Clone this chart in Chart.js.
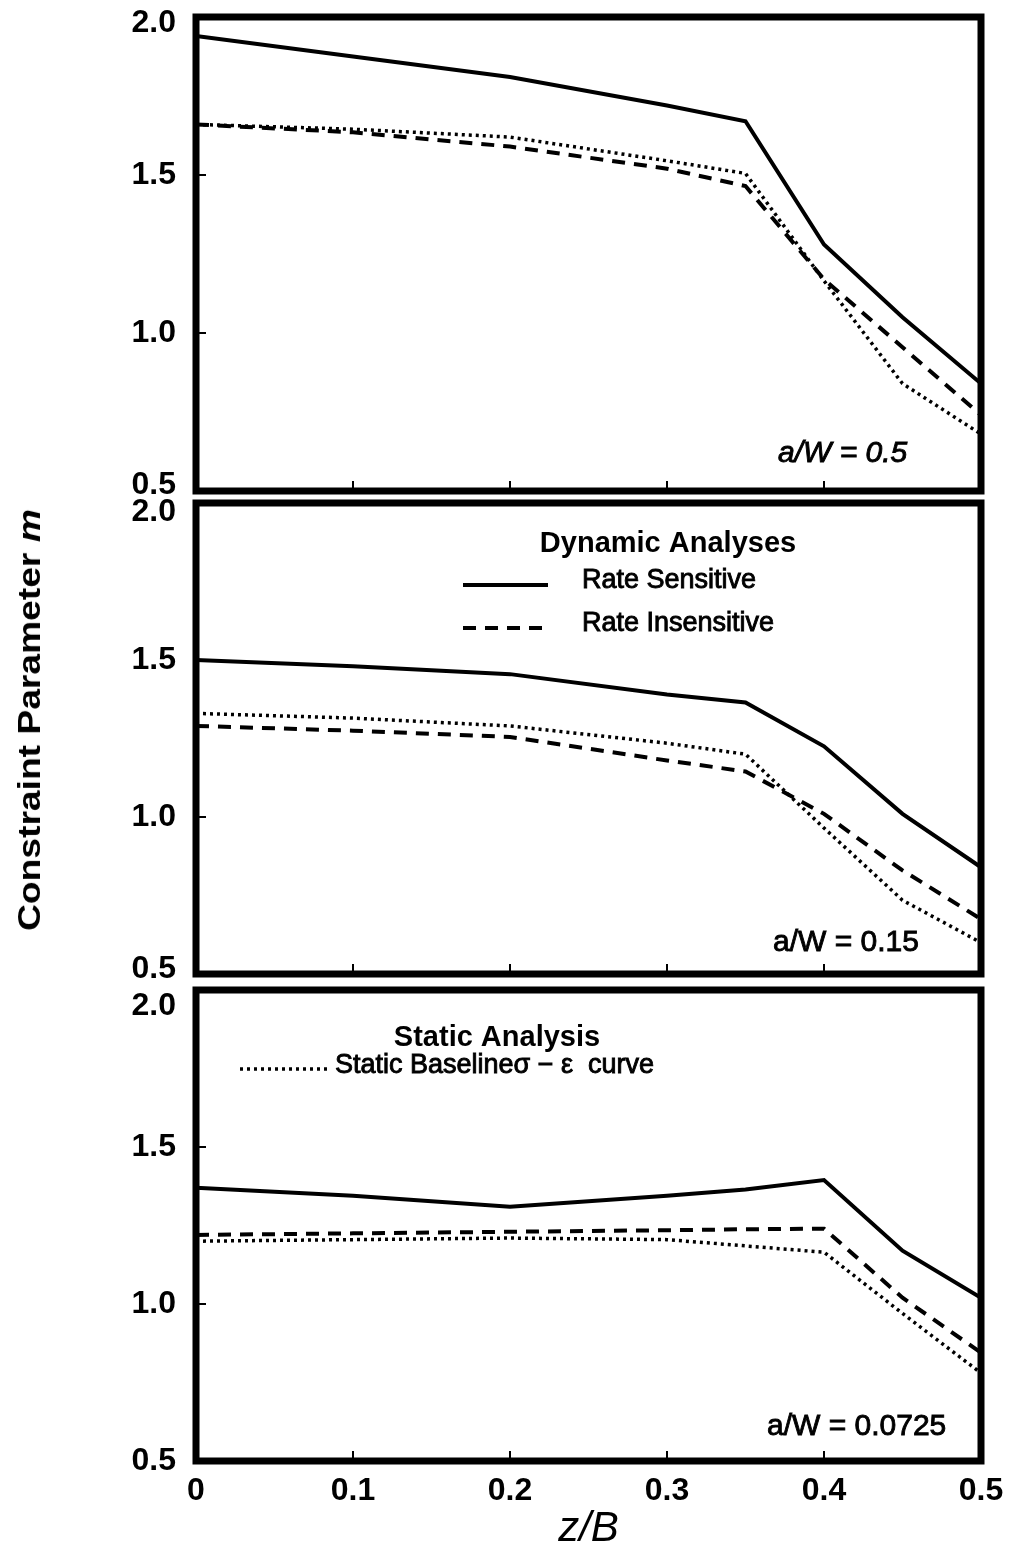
<!DOCTYPE html>
<html>
<head>
<meta charset="utf-8">
<script src="https://cdn.jsdelivr.net/npm/chart.js@4.4.1/dist/chart.umd.min.js"></script>
<style>
  body { margin: 0; background: #fff; width: 1014px; height: 1557px; position: relative; overflow: hidden; }
  canvas { position: absolute; left: 0; }
  #ytitle {
    position: absolute; left: 30px; top: 720px; white-space: nowrap;
    font: bold 31px 'Liberation Sans', Arial, sans-serif; color: #000;
    transform: translate(-50%, -50%) rotate(-90deg) scaleX(1.2);
  }
</style>
</head>
<body>
<canvas id="c1" width="1014" height="500" style="top:0px"></canvas>
<canvas id="c2" width="1014" height="485" style="top:495px"></canvas>
<canvas id="c3" width="1014" height="577" style="top:980px"></canvas>
<div id="ytitle">Constraint Parameter <i>m</i></div>
<script>
const FONT = "'Liberation Sans', Arial, Helvetica, sans-serif"

// z/B positions where the curves were sampled
const zB = [0, 0.1, 0.2, 0.3, 0.35, 0.4, 0.45, 0.5]
const xTicks = [0, 0.1, 0.2, 0.3, 0.4, 0.5]
const yTicks = [0.5, 1.0, 1.5, 2.0]
const seriesLabels = ['Rate Sensitive', 'Rate Insensitive', 'Static Baseline\u03c3 \u2212 \u03b5  curve']

// a/W = 0.5
const sensitive050 = [1.94, 1.875, 1.81, 1.72, 1.67, 1.28, 1.05, 0.84]
const insensitive050 = [1.66, 1.635, 1.59, 1.52, 1.465, 1.17, 0.955, 0.74]
const static050 = [1.66, 1.645, 1.62, 1.545, 1.505, 1.165, 0.84, 0.68]

// a/W = 0.15
const sensitive015 = [1.50, 1.48, 1.455, 1.39, 1.365, 1.225, 1.01, 0.84]
const insensitive015 = [1.29, 1.275, 1.255, 1.18, 1.145, 1.01, 0.83, 0.675]
const static015 = [1.33, 1.315, 1.29, 1.235, 1.20, 0.965, 0.735, 0.60]

// a/W = 0.0725
const sensitive0725 = [1.37, 1.345, 1.31, 1.345, 1.365, 1.395, 1.17, 1.02]
const insensitive0725 = [1.22, 1.225, 1.23, 1.235, 1.238, 1.24, 1.02, 0.845]
const static0725 = [1.20, 1.205, 1.21, 1.205, 1.185, 1.165, 0.97, 0.78]

// line look for solid / dashed / dotted
const lineStyles = [
  { width: 4, dash: [] },
  { width: 4, dash: [13, 9] },
  { width: 3.5, dash: [3, 4] },
]

// medium weight text: fill plus a thin stroke
function mediumText(ctx, text, x, y) {
  ctx.fillText(text, x, y)
  ctx.lineWidth = 0.9
  ctx.strokeText(text, x, y)
}

// frame, inner ticks, a/W note and the little legends
const panelPlugin = {
  id: 'panel',
  afterDatasetsDraw(chart, args, opts) {
    const { ctx, chartArea: a, scales: { x, y } } = chart
    ctx.save()
    ctx.strokeStyle = '#000'
    ctx.fillStyle = '#000'
    ctx.setLineDash([])

    ctx.lineWidth = 2
    ctx.beginPath()
    xTicks.slice(1, -1).forEach(v => {
      const px = x.getPixelForValue(v)
      ctx.moveTo(px, a.bottom)
      ctx.lineTo(px, a.bottom - 10)
    })
    yTicks.slice(1, -1).forEach(v => {
      const py = y.getPixelForValue(v)
      ctx.moveTo(a.left, py)
      ctx.lineTo(a.left + 10, py)
    })
    ctx.stroke()

    ctx.lineWidth = 7
    ctx.strokeRect(a.left, a.top, a.width, a.height)

    ctx.textBaseline = 'middle'
    ctx.textAlign = 'left'
    ctx.font = opts.noteFont
    mediumText(ctx, opts.note, opts.noteX, opts.noteY)

    const L = opts.legend
    if (L) {
      ctx.font = `bold 29px ${FONT}`
      ctx.textAlign = 'center'
      ctx.fillText(L.title, L.titleX, L.titleY)
      ctx.textAlign = 'left'
      ctx.font = `27px ${FONT}`
      L.items.forEach((idx, k) => {
        const ds = chart.data.datasets[idx]
        const yy = L.y + k * L.gap
        ctx.lineWidth = ds.borderWidth
        ctx.setLineDash(ds.borderDash)
        ctx.beginPath()
        ctx.moveTo(L.x1, yy + L.lineDy)
        ctx.lineTo(L.x2, yy + L.lineDy)
        ctx.stroke()
        ctx.setLineDash([])
        mediumText(ctx, ds.label, L.textX, yy)
      })
    }
    ctx.restore()
  }
}

// labels may poke out of the plot box, the frame decides the area
const noOverflow = s => {
  s.paddingTop = 0
  s.paddingBottom = 0
  s.paddingLeft = 0
  s.paddingRight = 0
}

function makePanel(id, sets, cfg) {
  const shift = cfg.shift
  return new Chart(document.getElementById(id), {
    type: 'line',
    data: {
      datasets: sets.map((vals, i) => ({
        label: seriesLabels[i],
        data: zB.map((z, k) => ({ x: z, y: vals[k] })),
        borderColor: '#000',
        borderWidth: lineStyles[i].width,
        borderDash: lineStyles[i].dash,
        pointRadius: 0,
        tension: 0,
        fill: false,
      })),
    },
    options: {
      responsive: false,
      animation: false,
      devicePixelRatio: 1,
      layout: { padding: { top: cfg.padTop, bottom: cfg.padBottom, left: 0, right: 33 } },
      plugins: {
        legend: { display: false },
        tooltip: { enabled: false },
        panel: cfg.panel,
      },
      scales: {
        x: {
          type: 'linear',
          min: 0,
          max: 0.5,
          display: cfg.showX,
          afterBuildTicks: s => { s.ticks = xTicks.map(v => ({ value: v })) },
          afterFit: s => {
            noOverflow(s)
            if (cfg.showX) s.height = 96
          },
          grid: { display: false, drawTicks: false },
          border: { display: false },
          ticks: {
            padding: 11,
            color: '#000',
            maxRotation: 0,
            autoSkip: false,
            font: { family: FONT, size: 32, weight: 'bold' },
            callback: v => (v === 0 ? '0' : v.toFixed(1)),
          },
          title: {
            display: true,
            text: 'z/B',
            color: '#000',
            font: { family: FONT, size: 42, style: 'italic' },
            padding: { top: 0, bottom: 2 },
          },
        },
        y: {
          type: 'linear',
          min: 0.5,
          max: 2.0,
          afterBuildTicks: s => { s.ticks = yTicks.map(v => ({ value: v })) },
          afterFit: s => {
            noOverflow(s)
            s.width = 196
          },
          grid: { display: false, drawTicks: false },
          border: { display: false },
          ticks: {
            padding: 20,
            color: '#000',
            // end labels sit a bit inside the frame, nudge them with a blank line
            callback: v => {
              const s = v.toFixed(1)
              if (v === 2 && shift.top) return ['', s]
              if (v === 0.5 && shift.bottom) return [s, '']
              return s
            },
            font: c => {
              const v = c.tick ? c.tick.value : null
              let lh = 1.2
              if (v === 2 && shift.top) lh = 2 * shift.top + 'px'
              if (v === 0.5 && shift.bottom) lh = 2 * shift.bottom + 'px'
              return { family: FONT, size: 32, weight: 'bold', lineHeight: lh }
            },
          },
        },
      },
    },
    plugins: [panelPlugin],
  })
}

makePanel('c1', [sensitive050, insensitive050, static050], {
  padTop: 17, padBottom: 9, showX: false,
  shift: { top: 6, bottom: 6 },
  panel: { note: 'a/W = 0.5', noteX: 778, noteY: 454, noteFont: `italic 30px ${FONT}` },
})

makePanel('c2', [sensitive015, insensitive015, static015], {
  padTop: 8, padBottom: 6, showX: false,
  shift: { top: 9, bottom: 5 },
  panel: {
    note: 'a/W = 0.15', noteX: 773, noteY: 448, noteFont: `30px ${FONT}`,
    legend: { title: 'Dynamic Analyses', titleX: 668, titleY: 49, items: [0, 1], y: 86, gap: 43, lineDy: 4, x1: 463, x2: 548, textX: 582 },
  },
})

makePanel('c3', [sensitive0725, insensitive0725, static0725], {
  padTop: 10, padBottom: 0, showX: true,
  shift: { top: 16, bottom: 0 },
  panel: {
    note: 'a/W = 0.0725', noteX: 767, noteY: 447, noteFont: `30px ${FONT}`,
    legend: { title: 'Static Analysis', titleX: 497, titleY: 58, items: [2], y: 86, gap: 0, lineDy: 3, x1: 240, x2: 327, textX: 335 },
  },
})
</script>
</body>
</html>
